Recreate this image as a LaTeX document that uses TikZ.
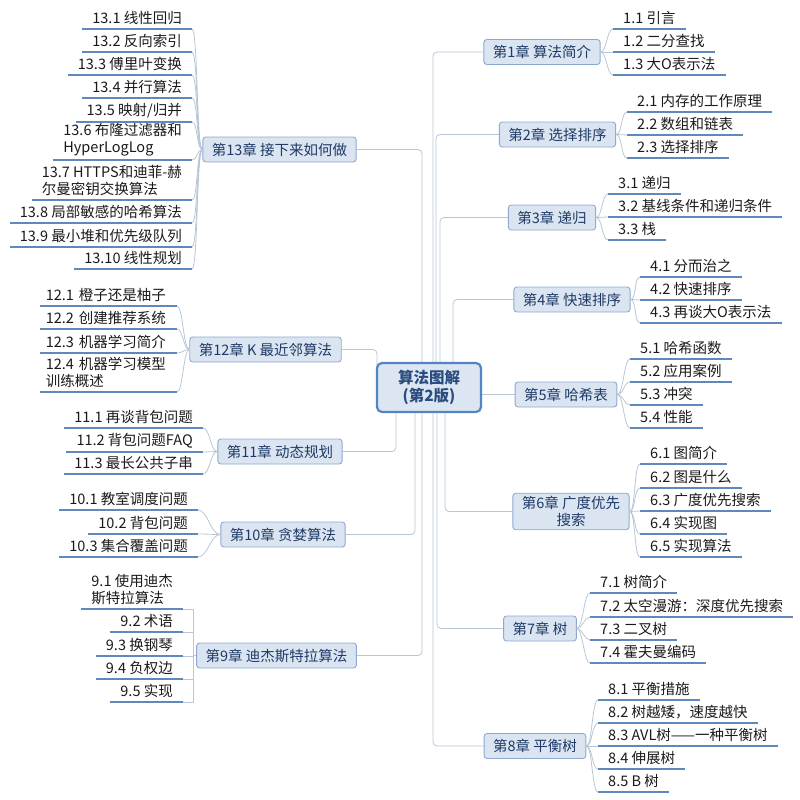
\documentclass[tikz,border=0pt]{standalone}
\usepackage{fontspec}
\setmainfont{Noto Sans CJK SC}
\usetikzlibrary{backgrounds}
\definecolor{rootfill}{HTML}{DCE6F2}
\definecolor{rootline}{HTML}{5584C4}
\definecolor{roottext}{HTML}{2B4C7E}
\definecolor{chapfill}{HTML}{DBE5F1}
\definecolor{chapline}{HTML}{8DA9D2}
\definecolor{chaptext}{HTML}{1F3A66}
\definecolor{leaftext}{HTML}{1A1A1A}
\definecolor{ulcolor}{HTML}{5F88BE}
\definecolor{linkcolor}{HTML}{B9C6D6}
\begin{document}
\begin{tikzpicture}[x=1pt,y=-1pt,
    root/.style={draw=rootline, line width=2.2pt, fill=rootfill, rounded corners=5pt,
        minimum width=104pt, minimum height=49pt, align=center, text=roottext,
        font=\fontsize{15.5}{18}\selectfont\bfseries},
    chap/.style={draw=chapline, line width=0.9pt, fill=chapfill, rounded corners=3pt,
        minimum height=25pt, inner xsep=9pt, inner ysep=3pt, align=center, text=chaptext,
        font=\fontsize{14.5}{17}\selectfont},
    leaf/.style={inner xsep=10pt, inner ysep=4pt, align=left, text=leaftext,
        font=\fontsize{14.5}{17}\selectfont},
    uline/.style={draw=ulcolor, line width=1.1pt},
    sublink/.style={draw=linkcolor, line width=0.8pt},
    rootlink/.style={draw=linkcolor, line width=0.8pt, rounded corners=4pt}]
    \useasboundingbox (0,0) rectangle (800,800);

    % root
    \node[root] (root) at (429,387.5) {算法图解\\(第2版)};

    % chapters, right
    \node[chap] (ch1) at (542,52) {第1章 算法简介};
    \node[chap] (ch2) at (557.5,134.5) {第2章 选择排序};
    \node[chap] (ch3) at (552,217.5) {第3章 递归};
    \node[chap] (ch4) at (572,299.5) {第4章 快速排序};
    \node[chap] (ch5) at (566,394.5) {第5章 哈希表};
    \node[chap] (ch6) at (571,511.5) {第6章 广度优先\\搜索};
    \node[chap] (ch7) at (540,628.5) {第7章 树};
    \node[chap] (ch8) at (535,746) {第8章 平衡树};

    % chapters, left
    \node[chap] (ch9) at (276.5,655.5) {第9章 迪杰斯特拉算法};
    \node[chap] (ch10) at (283,534.5) {第10章 贪婪算法};
    \node[chap] (ch11) at (280,451.5) {第11章 动态规划};
    \node[chap] (ch12) at (265.5,349.5) {第12章 K 最近邻算法};
    \node[chap] (ch13) at (279.5,149.5) {第13章 接下来如何做};

    % root links
    \begin{scope}[on background layer]
        \foreach \c/\dx in {ch1/4, ch2/7, ch3/11, ch4/24, ch6/16, ch7/8, ch8/4}
            \draw[rootlink] ([xshift=\dx pt]root.center) |- (\c.west);
        \draw[rootlink] (root.center |- ch5.west) -- (ch5.west);
        \foreach \c/\dx in {ch9/-7, ch10/-14, ch11/-33, ch12/-52, ch13/-7}
            \draw[rootlink] ([xshift=\dx pt]root.center) |- (\c.east);
    \end{scope}

    % 1
    \foreach \i/\y/\t in {1/29/{1.1 引言}, 2/52/{1.2 二分查找}, 3/75/{1.3 大O表示法}} {
        \node[leaf, anchor=south west] (c1-\i) at (613,\y) {\t};
        \draw[sublink] (ch1.east) .. controls +(6,0) and +(-6,0) .. (c1-\i.south west);
        \draw[uline] (c1-\i.south west) -- (c1-\i.south east);
    }
    % 2
    \foreach \i/\y/\t in {1/112/{2.1 内存的工作原理}, 2/135/{2.2 数组和链表}, 3/158/{2.3 选择排序}} {
        \node[leaf, anchor=south west] (c2-\i) at (627,\y) {\t};
        \draw[sublink] (ch2.east) .. controls +(6,0) and +(-6,0) .. (c2-\i.south west);
        \draw[uline] (c2-\i.south west) -- (c2-\i.south east);
    }
    % 3
    \foreach \i/\y/\t in {1/194/{3.1 递归}, 2/217/{3.2 基线条件和递归条件}, 3/240/{3.3 栈}} {
        \node[leaf, anchor=south west] (c3-\i) at (608,\y) {\t};
        \draw[sublink] (ch3.east) .. controls +(6,0) and +(-6,0) .. (c3-\i.south west);
        \draw[uline] (c3-\i.south west) -- (c3-\i.south east);
    }
    % 4
    \foreach \i/\y/\t in {1/277/{4.1 分而治之}, 2/300/{4.2 快速排序}, 3/323/{4.3 再谈大O表示法}} {
        \node[leaf, anchor=south west] (c4-\i) at (640,\y) {\t};
        \draw[sublink] (ch4.east) .. controls +(6,0) and +(-6,0) .. (c4-\i.south west);
        \draw[uline] (c4-\i.south west) -- (c4-\i.south east);
    }
    % 5
    \foreach \i/\y/\t in {1/359/{5.1 哈希函数}, 2/382/{5.2 应用案例}, 3/405/{5.3 冲突}, 4/428/{5.4 性能}} {
        \node[leaf, anchor=south west] (c5-\i) at (630,\y) {\t};
        \draw[sublink] (ch5.east) .. controls +(6,0) and +(-6,0) .. (c5-\i.south west);
        \draw[uline] (c5-\i.south west) -- (c5-\i.south east);
    }
    % 6
    \foreach \i/\y/\t in {1/464/{6.1 图简介}, 2/488/{6.2 图是什么}, 3/511/{6.3 广度优先搜索},
                          4/534/{6.4 实现图}, 5/557/{6.5 实现算法}} {
        \node[leaf, anchor=south west] (c6-\i) at (640,\y) {\t};
        \draw[sublink] (ch6.east) .. controls +(6,0) and +(-6,0) .. (c6-\i.south west);
        \draw[uline] (c6-\i.south west) -- (c6-\i.south east);
    }
    % 7
    \foreach \i/\y/\t in {1/593/{7.1 树简介}, 2/617/{7.2 太空漫游：深度优先搜索}, 3/640/{7.3 二叉树},
                          4/663/{7.4 霍夫曼编码}} {
        \node[leaf, anchor=south west] (c7-\i) at (590,\y) {\t};
        \draw[sublink] (ch7.east) .. controls +(6,0) and +(-6,0) .. (c7-\i.south west);
        \draw[uline] (c7-\i.south west) -- (c7-\i.south east);
    }
    % 8
    \foreach \i/\y/\t in {1/700/{8.1 平衡措施}, 2/723/{8.2 树越矮，速度越快}, 3/746/{8.3 AVL树——一种平衡树},
                          4/769/{8.4 伸展树}, 5/792/{8.5 B 树}} {
        \node[leaf, anchor=south west] (c8-\i) at (598,\y) {\t};
        \draw[sublink] (ch8.east) .. controls +(6,0) and +(-6,0) .. (c8-\i.south west);
        \draw[uline] (c8-\i.south west) -- (c8-\i.south east);
    }

    % 9 (elbow links)
    \foreach \i/\y/\t in {1/609/{9.1 使用迪杰\\斯特拉算法}, 2/632/{9.2 术语}, 3/656/{9.3 换钢琴},
                          4/679/{9.4 负权边}, 5/702/{9.5 实现}} {
        \node[leaf, anchor=south east] (c9-\i) at (183,\y) {\t};
        \draw[sublink] (ch9.west) -- ++(-3,0) |- (c9-\i.south east);
        \draw[uline] (c9-\i.south west) -- (c9-\i.south east);
    }
    % 10
    \foreach \i/\y/\t in {1/510/{10.1 教室调度问题}, 2/534/{10.2 背包问题}, 3/557/{10.3 集合覆盖问题}} {
        \node[leaf, anchor=south east] (c10-\i) at (198,\y) {\t};
        \draw[sublink] (ch10.west) .. controls +(-10,0) and +(10,0) .. (c10-\i.south east);
        \draw[uline] (c10-\i.south west) -- (c10-\i.south east);
    }
    % 11
    \foreach \i/\y/\t in {1/428/{11.1 再谈背包问题}, 2/452/{11.2 背包问题FAQ}, 3/474/{11.3 最长公共子串}} {
        \node[leaf, anchor=south east] (c11-\i) at (203,\y) {\t};
        \draw[sublink] (ch11.west) .. controls +(-7,0) and +(7,0) .. (c11-\i.south east);
        \draw[uline] (c11-\i.south west) -- (c11-\i.south east);
    }
    % 12
    \foreach \i/\y/\t in {1/306/{12.1 橙子还是柚子}, 2/329/{12.2 创建推荐系统}, 3/353/{12.3 机器学习简介},
                          4/392/{12.4 机器学习模型\\训练概述}} {
        \node[leaf, anchor=south east, inner xsep=6pt, text width=125pt] (c12-\i) at (177,\y) {\t};
        \draw[sublink] (ch12.west) .. controls +(-6,0) and +(6,0) .. (c12-\i.south east);
        \draw[uline] (c12-\i.south west) -- (c12-\i.south east);
    }
    % 13
    \foreach \i/\y/\t in {1/29/{13.1 线性回归}, 2/52/{13.2 反向索引}, 3/75/{13.3 傅里叶变换},
                          4/98/{13.4 并行算法}, 5/122/{13.5 映射/归并}, 6/160/{13.6 布隆过滤器和\\HyperLogLog},
                          7/200/{13.7 HTTPS和迪菲-赫\\尔曼密钥交换算法}, 8/223/{13.8 局部敏感的哈希算法},
                          9/247/{13.9 最小堆和优先级队列}, 10/269/{13.10 线性规划}} {
        \node[leaf, anchor=south east] (c13-\i) at (192,\y) {\t};
        \draw[sublink] (ch13.west) .. controls +(-6,0) and +(6,0) .. (c13-\i.south east);
        \draw[uline] (c13-\i.south west) -- (c13-\i.south east);
    }
\end{tikzpicture}
\end{document}
